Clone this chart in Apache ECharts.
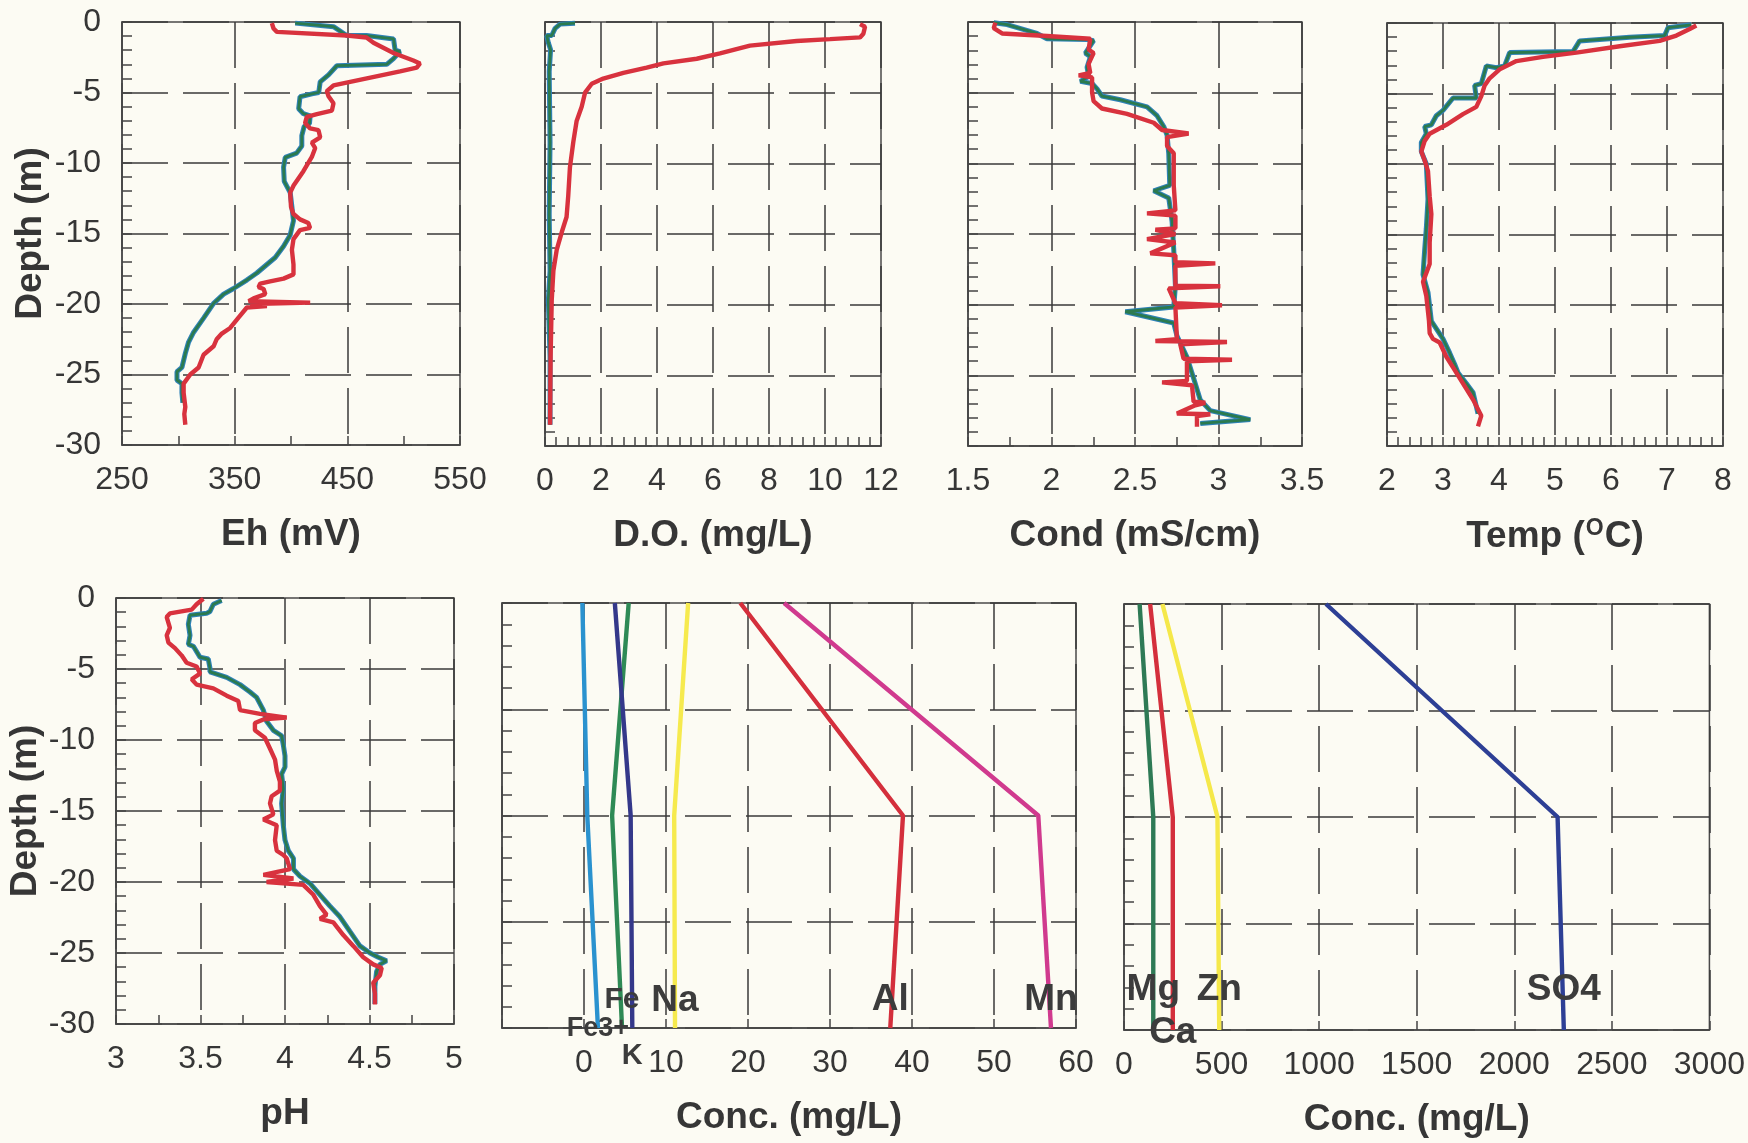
<!DOCTYPE html>
<html>
<head>
<meta charset="utf-8">
<script src="https://cdn.jsdelivr.net/npm/echarts@6/dist/echarts.min.js"></script>
<style>
html,body{margin:0;padding:0;background:#fcfbf3;}
#chart{width:1748px;height:1143px;}
</style>
</head>
<body>
<div id="chart"></div>
<script>
// ---------- DATA (value, depth m) ----------
const ehGreen = [[403.7,-0.08],[437.7,-0.33],[449.5,-0.96],[467,-0.96],[491,-1.2],[492.4,-2.0],[496.8,-2.1],[491,-2.6],[485,-3.0],[440.7,-3.1],[433.3,-3.75],[425.9,-4.25],[424.6,-5.0],[418.6,-5.1],[408,-5.3],[406.8,-6.15],[411,-6.5],[417,-6.66],[416.4,-7.2],[411.7,-7.4],[409.6,-8.05],[409.6,-8.8],[405,-9.3],[394.9,-9.6],[393.4,-10.3],[394,-11.3],[399.3,-12.1],[400.8,-13.1],[402.2,-14.1],[399.3,-15.1],[393.4,-15.9],[386,-16.7],[378.6,-17.2],[369.7,-17.8],[360.8,-18.3],[349,-18.9],[340.2,-19.3],[331.3,-19.95],[322.4,-21.0],[313.6,-22.0],[309.1,-22.7],[306.2,-23.5],[303.2,-24.5],[298.8,-24.8],[298.8,-25.4],[303.2,-25.65],[303.2,-26.3],[304,-27]];
const ehRed = [[383,-0.08],[384.5,-0.46],[387.5,-0.7],[449.5,-0.96],[467,-1.1],[473.2,-1.47],[491,-2.2],[508.6,-2.73],[514.5,-2.94],[511.6,-3.24],[496.8,-3.5],[467.3,-4.0],[437.7,-4.5],[431.8,-4.9],[433.3,-5.27],[437.7,-5.77],[436.3,-6.28],[423,-6.53],[414,-6.73],[412.5,-7.17],[417,-7.55],[424.4,-7.67],[425.9,-8.18],[418.5,-8.56],[421.5,-8.94],[418.5,-9.57],[411,-10.58],[402.3,-11.6],[399.3,-12.1],[400,-13.1],[402,-13.6],[408,-14.0],[415.4,-14.25],[416.9,-14.6],[408,-14.76],[402.2,-15.4],[400.8,-16.15],[402.2,-17.2],[402.2,-17.9],[393.4,-18.2],[381.5,-18.4],[372.7,-18.55],[371.2,-18.8],[375.7,-18.94],[377.2,-19.3],[366.8,-19.6],[362.4,-19.8],[417,-19.9],[363.9,-20.0],[378.6,-20.15],[360.8,-20.25],[353.4,-20.96],[346,-21.7],[338.6,-22.1],[334,-22.5],[331.3,-23],[322.4,-23.6],[318,-24.5],[310.6,-25.0],[304.7,-25.65],[304.7,-26.3],[306.2,-27.3],[305.3,-27.8],[306.2,-28.56]];

const doGreen = [[1.07,-0.08],[0.54,-0.15],[0.36,-0.45],[0.24,-0.96],[0.06,-0.96],[0.12,-1.47],[0.2,-1.97],[0.15,-3.5],[0.18,-8.5],[0.15,-13.6],[0.18,-17.6],[0.12,-19.7],[0.18,-23.7],[0.18,-28.5]];
const doRed = [[11.25,-0.15],[11.43,-0.33],[11.37,-0.83],[11.25,-1.09],[10.18,-1.21],[8.99,-1.34],[7.32,-1.67],[6.25,-2.22],[5.42,-2.6],[4.23,-2.93],[3.63,-3.23],[2.8,-3.6],[2.08,-4.0],[1.67,-4.37],[1.43,-5.0],[1.31,-6.0],[1.13,-7.0],[1.01,-8.5],[0.89,-10.3],[0.83,-12.3],[0.77,-13.8],[0.6,-14.86],[0.42,-16.1],[0.3,-17.6],[0.24,-19.7],[0.2,-23.7],[0.18,-28.5]];

const condGreen = [[1.654,-0.05],[1.734,-0.18],[1.913,-0.81],[1.973,-1.19],[2.213,-1.24],[2.252,-1.32],[2.203,-2.2],[2.233,-2.45],[2.213,-3.2],[2.223,-3.85],[2.173,-4.2],[2.243,-4.35],[2.273,-4.73],[2.302,-5.24],[2.412,-5.5],[2.572,-6.0],[2.632,-6.63],[2.672,-7.39],[2.692,-8.0],[2.702,-9.3],[2.708,-11.56],[2.612,-11.94],[2.702,-12.45],[2.722,-14.1],[2.732,-16.1],[2.742,-18.65],[2.732,-20.16],[2.442,-20.5],[2.732,-21.3],[2.751,-22.2],[2.811,-23.7],[2.851,-25.2],[2.891,-26.74],[2.951,-27.5],[3.19,-28.13],[2.891,-28.4]];
const condRed = [[1.664,-0.05],[1.654,-0.43],[1.704,-0.81],[1.973,-0.99],[2.232,-1.19],[2.222,-1.95],[2.252,-2.2],[2.222,-2.96],[2.232,-3.6],[2.163,-3.77],[2.243,-3.92],[2.243,-4.98],[2.252,-5.6],[2.302,-6.12],[2.452,-6.5],[2.612,-7.13],[2.662,-7.64],[2.821,-7.89],[2.692,-8.15],[2.692,-8.78],[2.732,-9.29],[2.732,-11.56],[2.742,-13.33],[2.572,-13.54],[2.742,-13.7],[2.742,-14.6],[2.622,-14.7],[2.742,-15.0],[2.572,-15.36],[2.742,-15.6],[2.592,-16.37],[2.742,-16.5],[2.742,-17.0],[2.981,-17.08],[2.742,-17.25],[2.742,-18.65],[3.011,-18.7],[2.702,-18.85],[2.742,-19.9],[3.021,-20.04],[2.742,-20.2],[2.751,-22.44],[2.622,-22.57],[3.051,-22.64],[2.771,-22.8],[2.791,-23.83],[3.081,-23.9],[2.811,-24.0],[2.811,-25.4],[2.662,-25.5],[2.841,-25.7],[2.851,-26.87],[2.921,-26.94],[2.861,-27.12],[2.751,-27.7],[2.951,-27.75],[2.871,-27.88],[2.871,-28.64]];

const tempGreen = [[7.434,-0.13],[7.018,-0.33],[6.958,-0.89],[6.333,-1.01],[5.44,-1.27],[5.321,-2.03],[4.19,-2.1],[4.1,-3.04],[3.952,-3.17],[3.774,-3.04],[3.684,-4.3],[3.565,-4.43],[3.595,-5.32],[3.179,-5.32],[3.0,-6.2],[2.88,-6.58],[2.792,-7.22],[2.673,-7.34],[2.702,-7.85],[2.613,-8.48],[2.613,-9.12],[2.702,-10.0],[2.732,-12.5],[2.702,-14.56],[2.673,-16.08],[2.643,-17.85],[2.732,-19.1],[2.792,-21.14],[3.0,-22.4],[3.119,-23.4],[3.208,-24.2],[3.268,-24.8],[3.417,-25.57],[3.536,-26.2],[3.595,-27.2],[3.625,-27.7]];
const tempRed = [[7.524,-0.18],[7.405,-0.43],[7.167,-0.89],[6.869,-1.27],[6.155,-1.65],[5.381,-2.1],[4.786,-2.4],[4.31,-2.7],[4.012,-3.29],[3.833,-3.92],[3.744,-4.43],[3.684,-5.19],[3.595,-5.95],[3.357,-6.46],[3.06,-7.22],[2.762,-7.85],[2.673,-8.36],[2.613,-9.12],[2.673,-9.75],[2.732,-10.5],[2.762,-12.28],[2.792,-13.55],[2.762,-15.57],[2.762,-17.09],[2.643,-18.36],[2.702,-19.37],[2.75,-21.14],[2.762,-22.0],[2.82,-22.4],[2.94,-22.66],[3.06,-23.67],[3.179,-24.43],[3.298,-25.19],[3.417,-25.95],[3.536,-26.71],[3.684,-27.85],[3.625,-28.61]];

const phGreen = [[3.625,-0.18],[3.576,-0.44],[3.556,-0.95],[3.536,-1.08],[3.438,-1.21],[3.428,-1.85],[3.438,-2.63],[3.428,-3.27],[3.458,-3.4],[3.497,-4.17],[3.546,-4.3],[3.556,-4.94],[3.556,-5.2],[3.655,-5.59],[3.734,-6.1],[3.793,-6.62],[3.832,-7.0],[3.872,-7.9],[3.891,-8.68],[3.931,-9.32],[3.98,-9.7],[3.99,-10.35],[4.0,-11.12],[4.0,-11.9],[3.98,-12.4],[3.99,-13.44],[3.98,-14.47],[3.99,-16.0],[4.0,-17.05],[4.02,-17.8],[4.05,-18.33],[4.05,-19.1],[4.089,-19.6],[4.148,-20.1],[4.207,-20.9],[4.266,-21.7],[4.325,-22.45],[4.384,-23.48],[4.443,-24.5],[4.503,-25.0],[4.552,-25.3],[4.601,-25.55],[4.562,-25.8],[4.542,-26.3],[4.532,-27.35],[4.532,-28.6]];
const phRed = [[3.517,-0.05],[3.477,-0.44],[3.448,-0.82],[3.319,-1.08],[3.3,-1.34],[3.319,-2.1],[3.3,-2.63],[3.31,-3.14],[3.349,-3.53],[3.388,-4.04],[3.418,-4.56],[3.477,-4.82],[3.497,-5.33],[3.448,-5.72],[3.477,-6.1],[3.576,-6.36],[3.655,-6.88],[3.724,-7.26],[3.734,-7.9],[3.852,-8.16],[4.01,-8.42],[3.872,-8.55],[3.822,-8.8],[3.822,-9.32],[3.881,-9.84],[3.911,-10.6],[3.941,-11.38],[3.951,-12.15],[3.97,-12.93],[3.97,-13.57],[3.921,-13.96],[3.911,-14.47],[3.931,-15.24],[3.872,-15.6],[3.951,-16.0],[3.941,-17.05],[3.951,-17.8],[3.99,-18.1],[4.01,-18.33],[4.03,-19.1],[3.872,-19.5],[4.05,-19.75],[3.891,-20.0],[4.108,-20.2],[4.168,-20.9],[4.207,-21.7],[4.246,-22.3],[4.207,-22.6],[4.286,-22.84],[4.345,-23.74],[4.404,-24.5],[4.463,-25.3],[4.522,-25.8],[4.572,-26.06],[4.562,-26.57],[4.522,-27.09],[4.532,-27.86],[4.532,-28.63]];

// chemistry profiles: depth and concentrations (mg/L)
const chemDepth = [0, -15, -30];
const fe3 = [-0.2, 0.4, 1.7];
const fe  = [5.45, 3.43, 4.64];
const kk  = [3.76, 5.69, 5.89];
const na  = [12.7, 11.0, 11.1];
const al  = [19.06, 38.9, 37.35];
const mn  = [24.4, 55.4, 56.95];
const mg  = [80, 150, 150];
const ca  = [134, 250, 250];
const zn  = [197, 479, 488];
const so4 = [1035, 2222, 2254];

// ---------- STYLE ----------
const FONT = '"Liberation Sans", Arial, Helvetica, sans-serif';
const TXT = '#363636';
const GRIDC = '#3a3a3a';
const DASH = [46, 15];
const RED = '#d8323e';
const TEAL_OUT = '#2f82b8';
const TEAL_IN = '#2b7a4e';
const TICKFS = 32, TITLEFS = 37;

const panels = [
  {grid:{left:122,top:22,width:338,height:423}, x:{min:250,max:550,interval:100,minor:2,name:'Eh (mV)'}, y:{labels:true,nameGap:73,min:-30,max:0,interval:5,minor:5}},
  {grid:{left:545,top:22,width:336,height:424}, x:{min:0,max:12,interval:2,minor:5,name:'D.O. (mg/L)'}, y:{labels:false,min:-30,max:0,interval:5,minor:5}},
  {grid:{left:968,top:22,width:334,height:424}, x:{min:1.5,max:3.5,interval:0.5,minor:2,name:'Cond (mS/cm)'}, y:{labels:false,min:-30,max:0,interval:5,minor:5}},
  {grid:{left:1387,top:23,width:336,height:423}, x:{min:2,max:8,interval:1,minor:5,name:'Temp (ºC)', rich:true}, y:{labels:false,min:-30,max:0,interval:5,minor:5}},
  {grid:{left:116,top:598,width:338,height:426}, x:{min:3,max:5,interval:0.5,minor:2,name:'pH'}, y:{labels:true,nameGap:72,min:-30,max:0,interval:5,minor:5}},
  {grid:{left:502,top:603,width:574,height:425}, x:{min:-10,max:60,interval:10,minor:0,name:'Conc. (mg/L)',hideNeg:true}, y:{labels:false,min:-30,max:0,interval:7.5,minor:5}},
  {grid:{left:1124,top:604,width:586,height:426}, x:{min:0,max:3000,interval:500,minor:0,name:'Conc. (mg/L)'}, y:{labels:false,min:-30,max:0,interval:7.5,minor:5}}
];

const grids = [], xAxes = [], yAxes = [];
panels.forEach((p, i) => {
  grids.push(Object.assign({show:true, borderColor:'#4a4a4a', borderWidth:1.5, backgroundColor:'transparent'}, p.grid));
  const xa = {
    type:'value', gridIndex:i, min:p.x.min, max:p.x.max, interval:p.x.interval,
    position:'bottom',
    axisLine:{show:true, onZero:false, lineStyle:{color:'#4a4a4a', width:1.5}},
    axisTick:{show:true, inside:true, length:9, lineStyle:{color:'#444', width:1.5}},
    minorTick:{show:p.x.minor>0, splitNumber:p.x.minor||5, length:9, lineStyle:{color:'#444', width:1.5}},
    splitLine:{show:true, lineStyle:{color:GRIDC, width:1.5, type:DASH}},
    axisLabel:{show:true, margin:19, fontFamily:FONT, fontSize:TICKFS, color:TXT,
      formatter: v => (p.x.hideNeg && v < 0) ? '' : String(v)},
    name:p.x.name, nameLocation:'middle', nameGap:71,
    nameTextStyle:{fontFamily:FONT, fontSize:TITLEFS, fontWeight:'bold', color:TXT}
  };
  if (p.x.rich) {
    xa.name = 'Temp ({s|O}C)';
    xa.nameTextStyle.rich = {s:{fontFamily:FONT, fontSize:23, fontWeight:'bold', color:TXT, verticalAlign:'top', padding:[0,1,17,1]}};
  }
  xAxes.push(xa);
  const ya = {
    type:'value', gridIndex:i, min:p.y.min, max:p.y.max, interval:p.y.interval,
    axisLine:{show:true, onZero:false, lineStyle:{color:'#4a4a4a', width:1.5}},
    axisTick:{show:true, inside:true, length:10, lineStyle:{color:'#444', width:1.5}},
    minorTick:{show:true, splitNumber:p.y.minor, length:10, lineStyle:{color:'#444', width:1.5}},
    splitLine:{show:true, lineStyle:{color:GRIDC, width:1.5, type:DASH}},
    axisLabel:{show:p.y.labels, margin:21, fontFamily:FONT, fontSize:TICKFS, color:TXT},
  };
  if (p.y.labels) {
    ya.name = 'Depth (m)';
    ya.nameLocation = 'middle';
    ya.nameGap = p.y.nameGap;
    ya.nameTextStyle = {fontFamily:FONT, fontSize:TITLEFS, fontWeight:'bold', color:TXT};
  }
  yAxes.push(ya);
});

const series = [];
function tealPair(data, gi) {
  series.push({type:'line', xAxisIndex:gi, yAxisIndex:gi, data, showSymbol:false, symbol:'none', z:2,
    lineStyle:{color:TEAL_OUT, width:5}});
  series.push({type:'line', xAxisIndex:gi, yAxisIndex:gi, data, showSymbol:false, symbol:'none', z:3,
    lineStyle:{color:TEAL_IN, width:2.8}});
}
function redLine(data, gi) {
  series.push({type:'line', xAxisIndex:gi, yAxisIndex:gi, data, showSymbol:false, symbol:'none', z:4,
    lineStyle:{color:RED, width:4.4}});
}
tealPair(ehGreen,0); redLine(ehRed,0);
tealPair(doGreen,1); redLine(doRed,1);
tealPair(condGreen,2); redLine(condRed,2);
tealPair(tempGreen,3); redLine(tempRed,3);
tealPair(phGreen,4); redLine(phRed,4);

function chem(vals, gi, color, label, fs, dy) {
  const n = chemDepth.length;
  const data = chemDepth.map((d, k) => [vals[k], d]);
  series.push({type:'line', xAxisIndex:gi, yAxisIndex:gi, data, showSymbol:false, symbol:'none', z:3,
    lineStyle:{color, width:4.4},
    markPoint:{
      silent:true, animation:false,
      symbol:'circle', symbolSize:0,
      data:[{coord:[vals[n-1], chemDepth[n-1]], value:label}],
      label:{show:true, formatter:label, position:'inside', offset:[0, dy],
        fontFamily:FONT, fontSize:fs, fontWeight:'bold', color:'#3c3c3c'}
    }});
}
chem(fe3, 5, '#2a92cf', 'Fe3+', 27, 1);
chem(fe,  5, '#2e8a55', 'Fe', 30, -28);
chem(kk,  5, '#34388a', 'K', 29, 28);
chem(na,  5, '#f6ea4e', 'Na', 37, -27);
chem(al,  5, '#d42f3c', 'Al', 37, -28);
chem(mn,  5, '#d03a8e', 'Mn', 37, -28);
chem(mg,  6, '#2e7a55', 'Mg', 37, -40);
chem(ca,  6, '#d42f3c', 'Ca', 37, 3);
chem(zn,  6, '#f5e84a', 'Zn', 37, -40);
chem(so4, 6, '#2d3f95', 'SO4', 37, -40);

const chart = echarts.init(document.getElementById('chart'), null, {renderer:'canvas'});
chart.setOption({
  backgroundColor:'#fcfbf3',
  animation:false,
  grid:grids, xAxis:xAxes, yAxis:yAxes, series
});
</script>
</body>
</html>
